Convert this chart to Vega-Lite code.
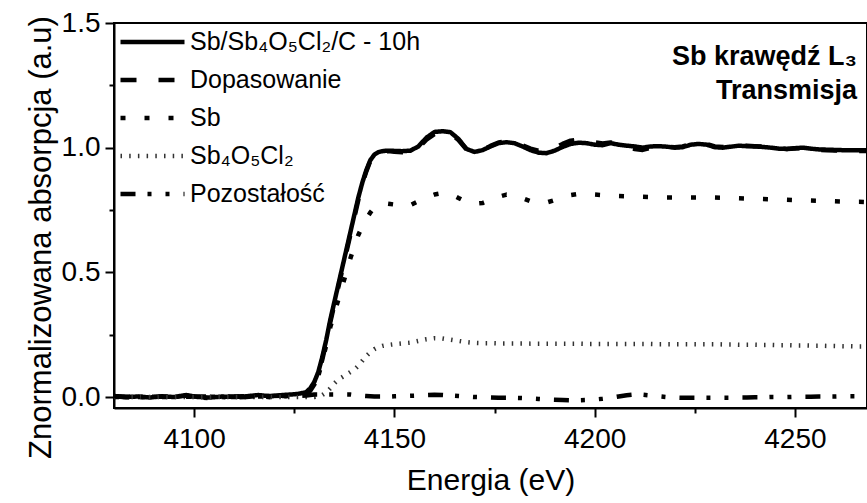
{
  "$schema": "https://vega.github.io/schema/vega-lite/v6.json",
  "width": 753,
  "height": 385,
  "autosize": {"type": "none"},
  "padding": {"left": 114, "top": 23, "right": 0, "bottom": 95},
  "background": "white",
  "config": {
    "view": {"stroke": "black", "strokeWidth": 2},
    "font": "Liberation Sans",
    "axis": {"domainColor": "black", "domainWidth": 2, "tickColor": "black", "tickWidth": 2, "labelColor": "black", "titleColor": "black", "grid": false, "labelFont": "Liberation Sans", "titleFont": "Liberation Sans", "titleFontWeight": "normal", "labelOverlap": false}
  },
  "datasets": {
    "xas": [
      {"E":4080,"d":0.004,"f":0.001,"sb":0,"ox":0,"r":0.003},
      {"E":4083,"d":0.0,"f":0.001,"sb":0,"ox":0,"r":-0.001},
      {"E":4086,"d":0.002,"f":0.001,"sb":0,"ox":0,"r":0.001},
      {"E":4089,"d":-0.002,"f":0.001,"sb":0,"ox":0,"r":-0.003},
      {"E":4092,"d":0.003,"f":0.001,"sb":0,"ox":0,"r":0.002},
      {"E":4095,"d":0.0,"f":0.001,"sb":0,"ox":0,"r":-0.001},
      {"E":4098,"d":0.008,"f":0.002,"sb":0.001,"ox":0,"r":0.006},
      {"E":4101,"d":0.0,"f":0.002,"sb":0.001,"ox":0,"r":-0.002},
      {"E":4104,"d":-0.002,"f":0.002,"sb":0.001,"ox":0,"r":-0.004},
      {"E":4107,"d":0.002,"f":0.002,"sb":0.001,"ox":0,"r":0.0},
      {"E":4110,"d":0.0,"f":0.002,"sb":0.001,"ox":0,"r":-0.002},
      {"E":4113,"d":0.003,"f":0.003,"sb":0.002,"ox":0,"r":0.0},
      {"E":4116,"d":0.008,"f":0.003,"sb":0.002,"ox":0,"r":0.005},
      {"E":4119,"d":0.003,"f":0.004,"sb":0.003,"ox":0,"r":-0.001},
      {"E":4122,"d":0.008,"f":0.005,"sb":0.004,"ox":0,"r":0.003},
      {"E":4124,"d":0.010,"f":0.006,"sb":0.004,"ox":0,"r":0.004},
      {"E":4125,"d":0.011,"f":0.007,"sb":0.005,"ox":0,"r":0.004},
      {"E":4126,"d":0.013,"f":0.009,"sb":0.007,"ox":0,"r":0.004},
      {"E":4127,"d":0.016,"f":0.011,"sb":0.009,"ox":0,"r":0.005},
      {"E":4128,"d":0.02,"f":0.014,"sb":0.012,"ox":0,"r":0.006},
      {"E":4129,"d":0.035,"f":0.025,"sb":0.022,"ox":0,"r":0.008},
      {"E":4130,"d":0.06,"f":0.05,"sb":0.045,"ox":0,"r":0.01},
      {"E":4131,"d":0.10,"f":0.09,"sb":0.085,"ox":0.003,"r":0.01},
      {"E":4132,"d":0.16,"f":0.15,"sb":0.14,"ox":0.008,"r":0.01},
      {"E":4133,"d":0.23,"f":0.22,"sb":0.21,"ox":0.018,"r":0.01},
      {"E":4134,"d":0.31,"f":0.30,"sb":0.28,"ox":0.035,"r":0.01},
      {"E":4135,"d":0.38,"f":0.37,"sb":0.335,"ox":0.055,"r":0.01},
      {"E":4136,"d":0.45,"f":0.44,"sb":0.39,"ox":0.07,"r":0.01},
      {"E":4137,"d":0.52,"f":0.51,"sb":0.445,"ox":0.08,"r":0.01},
      {"E":4138,"d":0.59,"f":0.58,"sb":0.50,"ox":0.09,"r":0.01},
      {"E":4139,"d":0.66,"f":0.65,"sb":0.555,"ox":0.10,"r":0.01},
      {"E":4140,"d":0.73,"f":0.72,"sb":0.605,"ox":0.11,"r":0.008},
      {"E":4141,"d":0.80,"f":0.79,"sb":0.65,"ox":0.125,"r":0.006},
      {"E":4142,"d":0.86,"f":0.855,"sb":0.685,"ox":0.145,"r":0.005},
      {"E":4143,"d":0.91,"f":0.905,"sb":0.715,"ox":0.165,"r":0.004},
      {"E":4144,"d":0.95,"f":0.947,"sb":0.74,"ox":0.18,"r":0.003},
      {"E":4145,"d":0.972,"f":0.97,"sb":0.76,"ox":0.192,"r":0.002},
      {"E":4146,"d":0.982,"f":0.98,"sb":0.77,"ox":0.2,"r":0.002},
      {"E":4147,"d":0.986,"f":0.984,"sb":0.775,"ox":0.205,"r":0.002},
      {"E":4148,"d":0.988,"f":0.986,"sb":0.776,"ox":0.208,"r":0.002},
      {"E":4149,"d":0.988,"f":0.986,"sb":0.774,"ox":0.21,"r":0.002},
      {"E":4150,"d":0.987,"f":0.984,"sb":0.772,"ox":0.212,"r":0.003},
      {"E":4152,"d":0.986,"f":0.982,"sb":0.765,"ox":0.215,"r":0.004},
      {"E":4154,"d":0.988,"f":0.983,"sb":0.77,"ox":0.218,"r":0.005},
      {"E":4156,"d":1.005,"f":0.999,"sb":0.785,"ox":0.225,"r":0.006},
      {"E":4158,"d":1.04,"f":1.032,"sb":0.80,"ox":0.232,"r":0.008},
      {"E":4160,"d":1.063,"f":1.054,"sb":0.812,"ox":0.236,"r":0.009},
      {"E":4162,"d":1.066,"f":1.058,"sb":0.818,"ox":0.235,"r":0.008},
      {"E":4164,"d":1.062,"f":1.056,"sb":0.815,"ox":0.23,"r":0.006},
      {"E":4166,"d":1.035,"f":1.031,"sb":0.798,"ox":0.225,"r":0.004},
      {"E":4168,"d":0.995,"f":0.993,"sb":0.782,"ox":0.22,"r":0.002},
      {"E":4170,"d":0.983,"f":0.983,"sb":0.775,"ox":0.217,"r":0.0},
      {"E":4172,"d":0.99,"f":0.991,"sb":0.778,"ox":0.216,"r":-0.001},
      {"E":4174,"d":1.005,"f":1.007,"sb":0.79,"ox":0.216,"r":-0.002},
      {"E":4176,"d":1.018,"f":1.021,"sb":0.803,"ox":0.215,"r":-0.003},
      {"E":4178,"d":1.022,"f":1.025,"sb":0.812,"ox":0.215,"r":-0.003},
      {"E":4180,"d":1.018,"f":1.021,"sb":0.81,"ox":0.215,"r":-0.003},
      {"E":4182,"d":1.005,"f":1.009,"sb":0.797,"ox":0.215,"r":-0.004},
      {"E":4184,"d":0.99,"f":0.996,"sb":0.785,"ox":0.214,"r":-0.006},
      {"E":4186,"d":0.98,"f":0.988,"sb":0.778,"ox":0.214,"r":-0.008},
      {"E":4188,"d":0.978,"f":0.988,"sb":0.78,"ox":0.214,"r":-0.01},
      {"E":4190,"d":0.988,"f":0.999,"sb":0.79,"ox":0.214,"r":-0.011},
      {"E":4192,"d":1.003,"f":1.015,"sb":0.80,"ox":0.214,"r":-0.012},
      {"E":4194,"d":1.015,"f":1.028,"sb":0.81,"ox":0.214,"r":-0.013},
      {"E":4196,"d":1.02,"f":1.033,"sb":0.815,"ox":0.214,"r":-0.013},
      {"E":4198,"d":1.018,"f":1.03,"sb":0.815,"ox":0.213,"r":-0.012},
      {"E":4200,"d":1.012,"f":1.022,"sb":0.812,"ox":0.213,"r":-0.01},
      {"E":4202,"d":1.01,"f":1.017,"sb":0.81,"ox":0.213,"r":-0.007},
      {"E":4204,"d":1.018,"f":1.021,"sb":0.808,"ox":0.213,"r":-0.003},
      {"E":4206,"d":1.012,"f":1.01,"sb":0.806,"ox":0.213,"r":0.002},
      {"E":4208,"d":1.008,"f":1.001,"sb":0.805,"ox":0.213,"r":0.007},
      {"E":4210,"d":1.005,"f":0.995,"sb":0.804,"ox":0.213,"r":0.01},
      {"E":4212,"d":1.0,"f":0.991,"sb":0.803,"ox":0.213,"r":0.009},
      {"E":4214,"d":1.005,"f":0.999,"sb":0.802,"ox":0.213,"r":0.006},
      {"E":4216,"d":1.006,"f":1.003,"sb":0.801,"ox":0.212,"r":0.003},
      {"E":4218,"d":1.004,"f":1.004,"sb":0.80,"ox":0.212,"r":0.0},
      {"E":4220,"d":1.0,"f":1.002,"sb":0.80,"ox":0.212,"r":-0.002},
      {"E":4222,"d":1.002,"f":1.005,"sb":0.80,"ox":0.212,"r":-0.003},
      {"E":4224,"d":1.012,"f":1.015,"sb":0.80,"ox":0.212,"r":-0.003},
      {"E":4226,"d":1.015,"f":1.018,"sb":0.80,"ox":0.212,"r":-0.003},
      {"E":4228,"d":1.012,"f":1.015,"sb":0.80,"ox":0.212,"r":-0.003},
      {"E":4230,"d":1.002,"f":1.005,"sb":0.80,"ox":0.212,"r":-0.003},
      {"E":4232,"d":1.0,"f":1.003,"sb":0.799,"ox":0.211,"r":-0.003},
      {"E":4234,"d":1.004,"f":1.007,"sb":0.798,"ox":0.211,"r":-0.003},
      {"E":4236,"d":1.008,"f":1.01,"sb":0.797,"ox":0.21,"r":-0.002},
      {"E":4238,"d":1.006,"f":1.008,"sb":0.796,"ox":0.21,"r":-0.002},
      {"E":4240,"d":1.005,"f":1.006,"sb":0.795,"ox":0.21,"r":-0.001},
      {"E":4242,"d":1.003,"f":1.004,"sb":0.794,"ox":0.209,"r":-0.001},
      {"E":4244,"d":1.0,"f":1.0,"sb":0.793,"ox":0.209,"r":0.0},
      {"E":4246,"d":0.996,"f":0.996,"sb":0.792,"ox":0.208,"r":0.0},
      {"E":4248,"d":0.995,"f":0.995,"sb":0.791,"ox":0.208,"r":0.0},
      {"E":4250,"d":0.998,"f":0.997,"sb":0.79,"ox":0.207,"r":0.001},
      {"E":4252,"d":1.0,"f":0.999,"sb":0.789,"ox":0.207,"r":0.001},
      {"E":4254,"d":0.996,"f":0.995,"sb":0.788,"ox":0.206,"r":0.001},
      {"E":4256,"d":0.993,"f":0.991,"sb":0.787,"ox":0.206,"r":0.002},
      {"E":4258,"d":0.992,"f":0.99,"sb":0.786,"ox":0.205,"r":0.002},
      {"E":4260,"d":0.991,"f":0.989,"sb":0.785,"ox":0.205,"r":0.002},
      {"E":4262,"d":0.99,"f":0.987,"sb":0.784,"ox":0.204,"r":0.003},
      {"E":4264,"d":0.99,"f":0.987,"sb":0.783,"ox":0.204,"r":0.003},
      {"E":4266,"d":0.99,"f":0.987,"sb":0.783,"ox":0.203,"r":0.003},
      {"E":4268,"d":0.99,"f":0.987,"sb":0.782,"ox":0.203,"r":0.003},
      {"E":4270,"d":0.99,"f":0.987,"sb":0.782,"ox":0.203,"r":0.003}
    ]
  },
  "layer": [
    {
      "data": {"name": "xas"},
      "transform": [{"fold": ["d", "f", "sb", "ox", "r"], "as": ["k", "v"]}],
      "mark": {"type": "line", "clip": true, "strokeJoin": "round"},
      "encoding": {
        "x": {
          "field": "E", "type": "quantitative",
          "scale": {"domain": [4080, 4268], "nice": false, "zero": false},
          "axis": {
            "title": "Energia (eV)",
            "values": [4100, 4125, 4150, 4175, 4200, 4225, 4250],
            "format": "d",
            "labelExpr": "datum.value % 50 == 0 ? datum.label : ''",
            "tickSize": {"condition": {"test": "datum.value % 50 != 0", "value": 5}, "value": 9},
            "labelFontSize": 28, "titleFontSize": 30, "labelPadding": 8, "titlePadding": 12
          }
        },
        "y": {
          "field": "v", "type": "quantitative",
          "scale": {"domain": [-0.044, 1.5], "nice": false, "zero": false},
          "axis": {
            "title": "Znormalizowana absorpcja (a.u)",
            "values": [0, 0.25, 0.5, 0.75, 1, 1.25, 1.5],
            "format": ".1f",
            "labelExpr": "(datum.value * 2) % 1 == 0 ? datum.label : ''",
            "tickSize": {"condition": {"test": "(datum.value * 2) % 1 != 0", "value": 5}, "value": 9},
            "labelFontSize": 28, "titleFontSize": 31, "labelPadding": 5, "titlePadding": 4, "titleY": 214
          }
        },
        "color": {
          "field": "k", "type": "nominal",
          "scale": {"domain": ["d", "f", "sb", "ox", "r"], "range": ["black", "black", "black", "#333333", "black"]},
          "legend": {
            "title": null, "orient": "none", "legendX": 4, "legendY": 0,
            "symbolType": "stroke", "symbolSize": 4096, "labelFontSize": 25, "labelOffset": 3,
            "clipHeight": 38, "rowPadding": 0, "padding": 0, "labelColor": "black", "labelLimit": 500,
            "labelExpr": "datum.value == 'd' ? 'Sb/Sb₄O₅Cl₂/C - 10h' : datum.value == 'f' ? 'Dopasowanie' : datum.value == 'sb' ? 'Sb' : datum.value == 'ox' ? 'Sb₄O₅Cl₂' : 'Pozostałość'"
          }
        },
        "strokeDash": {
          "field": "k", "type": "nominal",
          "scale": {"domain": ["d", "f", "sb", "ox", "r"], "range": [[1, 0], [16, 22], [5, 19], [1.5, 7.2], [15, 12, 4, 14, 4, 14]]}
        },
        "strokeWidth": {
          "field": "k", "type": "nominal",
          "scale": {"domain": ["d", "f", "sb", "ox", "r"], "range": [4.5, 4.5, 5, 5, 5]}
        }
      }
    },
    {
      "data": {"values": [{"E": 4265.5, "v": 1.364, "t": "Sb krawędź L₃"}, {"E": 4265.5, "v": 1.227, "t": "Transmisja"}]},
      "mark": {"type": "text", "align": "right", "baseline": "middle", "fontWeight": "bold", "fontSize": 27, "font": "Liberation Sans", "color": "black"},
      "encoding": {
        "x": {"field": "E", "type": "quantitative"},
        "y": {"field": "v", "type": "quantitative"},
        "text": {"field": "t"}
      }
    }
  ]
}
